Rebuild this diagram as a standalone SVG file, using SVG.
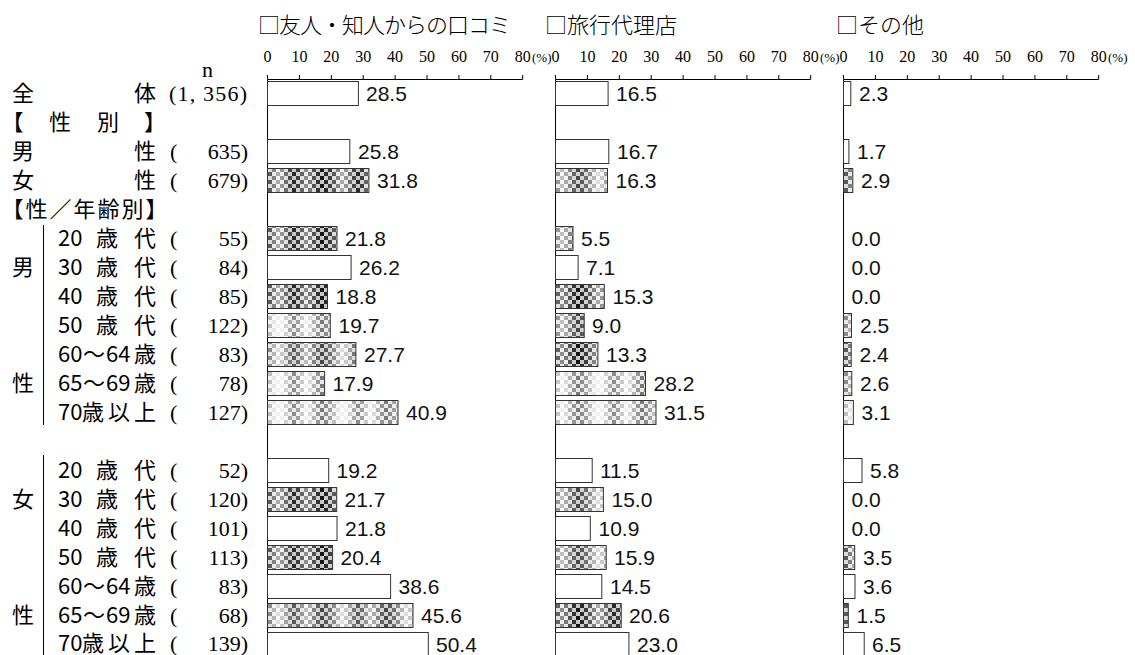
<svg xmlns="http://www.w3.org/2000/svg" width="1135" height="655" viewBox="0 0 1135 655">
<defs>
<pattern id="v1" width="64" height="8" patternUnits="userSpaceOnUse">
<rect x="0" width="4" height="8" fill="#c8c8c8"/><rect x="0" y="0" width="4" height="4" fill="#141414"/>
<rect x="4" width="4" height="8" fill="#c8c8c8"/><rect x="4" y="4" width="4" height="4" fill="#282828"/>
<rect x="8" width="4" height="8" fill="#d2d2d2"/><rect x="8" y="0" width="4" height="4" fill="#3c3c3c"/>
<rect x="12" width="4" height="8" fill="#dcdcdc"/><rect x="12" y="4" width="4" height="4" fill="#5a5a5a"/>
<rect x="16" width="4" height="8" fill="#ebebeb"/><rect x="16" y="0" width="4" height="4" fill="#828282"/>
<rect x="20" width="4" height="8" fill="#f5f5f5"/><rect x="20" y="4" width="4" height="4" fill="#aaaaaa"/>
<rect x="24" width="4" height="8" fill="#f0f0f0"/><rect x="24" y="0" width="4" height="4" fill="#969696"/>
<rect x="28" width="4" height="8" fill="#e1e1e1"/><rect x="28" y="4" width="4" height="4" fill="#6e6e6e"/>
<rect x="32" width="4" height="8" fill="#d2d2d2"/><rect x="32" y="0" width="4" height="4" fill="#464646"/>
<rect x="36" width="4" height="8" fill="#c8c8c8"/><rect x="36" y="4" width="4" height="4" fill="#282828"/>
<rect x="40" width="4" height="8" fill="#d2d2d2"/><rect x="40" y="0" width="4" height="4" fill="#3c3c3c"/>
<rect x="44" width="4" height="8" fill="#e1e1e1"/><rect x="44" y="4" width="4" height="4" fill="#646464"/>
<rect x="48" width="4" height="8" fill="#f0f0f0"/><rect x="48" y="0" width="4" height="4" fill="#8c8c8c"/>
<rect x="52" width="4" height="8" fill="#ebebeb"/><rect x="52" y="4" width="4" height="4" fill="#787878"/>
<rect x="56" width="4" height="8" fill="#dcdcdc"/><rect x="56" y="0" width="4" height="4" fill="#505050"/>
<rect x="60" width="4" height="8" fill="#cdcdcd"/><rect x="60" y="4" width="4" height="4" fill="#323232"/>
</pattern>
<pattern id="v2" width="64" height="8" patternUnits="userSpaceOnUse">
<rect x="0" width="4" height="8" fill="#d2d2d2"/><rect x="0" y="0" width="4" height="4" fill="#464646"/>
<rect x="4" width="4" height="8" fill="#d2d2d2"/><rect x="4" y="4" width="4" height="4" fill="#5a5a5a"/>
<rect x="8" width="4" height="8" fill="#dcdcdc"/><rect x="8" y="0" width="4" height="4" fill="#6e6e6e"/>
<rect x="12" width="4" height="8" fill="#e6e6e6"/><rect x="12" y="4" width="4" height="4" fill="#8c8c8c"/>
<rect x="16" width="4" height="8" fill="#f5f5f5"/><rect x="16" y="0" width="4" height="4" fill="#b4b4b4"/>
<rect x="20" width="4" height="8" fill="#ffffff"/><rect x="20" y="4" width="4" height="4" fill="#dcdcdc"/>
<rect x="24" width="4" height="8" fill="#fafafa"/><rect x="24" y="0" width="4" height="4" fill="#c8c8c8"/>
<rect x="28" width="4" height="8" fill="#ebebeb"/><rect x="28" y="4" width="4" height="4" fill="#a0a0a0"/>
<rect x="32" width="4" height="8" fill="#dcdcdc"/><rect x="32" y="0" width="4" height="4" fill="#787878"/>
<rect x="36" width="4" height="8" fill="#d2d2d2"/><rect x="36" y="4" width="4" height="4" fill="#5a5a5a"/>
<rect x="40" width="4" height="8" fill="#dcdcdc"/><rect x="40" y="0" width="4" height="4" fill="#6e6e6e"/>
<rect x="44" width="4" height="8" fill="#ebebeb"/><rect x="44" y="4" width="4" height="4" fill="#969696"/>
<rect x="48" width="4" height="8" fill="#fafafa"/><rect x="48" y="0" width="4" height="4" fill="#bebebe"/>
<rect x="52" width="4" height="8" fill="#f5f5f5"/><rect x="52" y="4" width="4" height="4" fill="#aaaaaa"/>
<rect x="56" width="4" height="8" fill="#e6e6e6"/><rect x="56" y="0" width="4" height="4" fill="#828282"/>
<rect x="60" width="4" height="8" fill="#d7d7d7"/><rect x="60" y="4" width="4" height="4" fill="#646464"/>
</pattern>
<pattern id="v3" width="64" height="8" patternUnits="userSpaceOnUse">
<rect x="0" width="4" height="8" fill="#ebebeb"/><rect x="0" y="0" width="4" height="4" fill="#787878"/>
<rect x="4" width="4" height="8" fill="#ebebeb"/><rect x="4" y="4" width="4" height="4" fill="#8c8c8c"/>
<rect x="8" width="4" height="8" fill="#f0f0f0"/><rect x="8" y="0" width="4" height="4" fill="#a0a0a0"/>
<rect x="12" width="4" height="8" fill="#f5f5f5"/><rect x="12" y="4" width="4" height="4" fill="#bebebe"/>
<rect x="16" width="4" height="8" fill="#fafafa"/><rect x="16" y="0" width="4" height="4" fill="#e6e6e6"/>
<rect x="20" width="4" height="8" fill="#ffffff"/><rect x="20" y="4" width="4" height="4" fill="#f0f0f0"/>
<rect x="24" width="4" height="8" fill="#ffffff"/><rect x="24" y="0" width="4" height="4" fill="#f0f0f0"/>
<rect x="28" width="4" height="8" fill="#fafafa"/><rect x="28" y="4" width="4" height="4" fill="#d2d2d2"/>
<rect x="32" width="4" height="8" fill="#f0f0f0"/><rect x="32" y="0" width="4" height="4" fill="#aaaaaa"/>
<rect x="36" width="4" height="8" fill="#ebebeb"/><rect x="36" y="4" width="4" height="4" fill="#8c8c8c"/>
<rect x="40" width="4" height="8" fill="#f0f0f0"/><rect x="40" y="0" width="4" height="4" fill="#a0a0a0"/>
<rect x="44" width="4" height="8" fill="#fafafa"/><rect x="44" y="4" width="4" height="4" fill="#c8c8c8"/>
<rect x="48" width="4" height="8" fill="#ffffff"/><rect x="48" y="0" width="4" height="4" fill="#f0f0f0"/>
<rect x="52" width="4" height="8" fill="#fafafa"/><rect x="52" y="4" width="4" height="4" fill="#dcdcdc"/>
<rect x="56" width="4" height="8" fill="#f5f5f5"/><rect x="56" y="0" width="4" height="4" fill="#b4b4b4"/>
<rect x="60" width="4" height="8" fill="#eeeeee"/><rect x="60" y="4" width="4" height="4" fill="#969696"/>
</pattern>
</defs>
<style>
.lbl{font-family:"Noto Sans CJK JP","Noto Sans CJK SC",sans-serif;font-size:22px;fill:#000}
.num{font-family:"Liberation Serif",serif;font-size:22px;fill:#000}
.ne{text-anchor:end}
.val{font-family:"Liberation Sans",Arial,sans-serif;font-size:21px;fill:#111}
.ax{font-family:"Liberation Serif",serif;font-size:16px;fill:#000;text-anchor:middle}
.pct{font-family:"Liberation Serif",serif;font-size:13px;fill:#000}
.hdr{font-family:"Noto Sans CJK JP","Noto Sans CJK SC",sans-serif;font-weight:300;font-size:22px;fill:#000}
.axis{stroke:#000;stroke-width:1;fill:none}
.bar{stroke:#333;stroke-width:1}
.w{fill:#fff}
.d{fill:url(#v1)}
.m{fill:url(#v2)}
.l{fill:url(#v3)}
.br{stroke:#000;stroke-width:1}
</style>
<rect width="1135" height="655" fill="#fff"/>

<g id="headers">
<text class="hdr" x="258" y="33" textLength="253" lengthAdjust="spacing">□友人・知人からの口コミ</text>
<text class="hdr" x="545" y="33">□旅行代理店</text>
<text class="hdr" x="836" y="33">□その他</text>
</g>

<g id="axes">
<g id="axis1">
<path class="axis" d="M267.5 655V79.5H522.7M267.5 75V79.5M299.4 75V79.5M331.3 75V79.5M363.2 75V79.5M395.1 75V79.5M427 75V79.5M458.9 75V79.5M490.8 75V79.5M522.7 75V79.5"/>
<text class="ax" x="267.5" y="62">0</text><text class="ax" x="299.4" y="62">10</text><text class="ax" x="331.3" y="62">20</text><text class="ax" x="363.2" y="62">30</text><text class="ax" x="395.1" y="62">40</text><text class="ax" x="427" y="62">50</text><text class="ax" x="458.9" y="62">60</text><text class="ax" x="490.8" y="62">70</text><text class="ax" x="522.7" y="62">80</text><text class="pct" x="532" y="62">(%)</text>
</g>
<g id="axis2">
<path class="axis" d="M555.5 655V79.5H810.7M555.5 75V79.5M587.4 75V79.5M619.3 75V79.5M651.2 75V79.5M683.1 75V79.5M715 75V79.5M746.9 75V79.5M778.8 75V79.5M810.7 75V79.5"/>
<text class="ax" x="555.5" y="62">0</text><text class="ax" x="587.4" y="62">10</text><text class="ax" x="619.3" y="62">20</text><text class="ax" x="651.2" y="62">30</text><text class="ax" x="683.1" y="62">40</text><text class="ax" x="715" y="62">50</text><text class="ax" x="746.9" y="62">60</text><text class="ax" x="778.8" y="62">70</text><text class="ax" x="810.7" y="62">80</text><text class="pct" x="820" y="62">(%)</text>
</g>
<g id="axis3">
<path class="axis" d="M843.5 655V79.5H1098.7M843.5 75V79.5M875.4 75V79.5M907.3 75V79.5M939.2 75V79.5M971.1 75V79.5M1003 75V79.5M1034.9 75V79.5M1066.8 75V79.5M1098.7 75V79.5"/>
<text class="ax" x="843.5" y="62">0</text><text class="ax" x="875.4" y="62">10</text><text class="ax" x="907.3" y="62">20</text><text class="ax" x="939.2" y="62">30</text><text class="ax" x="971.1" y="62">40</text><text class="ax" x="1003" y="62">50</text><text class="ax" x="1034.9" y="62">60</text><text class="ax" x="1066.8" y="62">70</text><text class="ax" x="1098.7" y="62">80</text><text class="pct" x="1108" y="62">(%)</text>
</g>
</g>

<g id="labels">
<text class="num" x="202" y="77">n</text>
<g id="row-total"><text class="lbl" x="12" y="101">全</text><text class="lbl" x="134" y="101">体</text><text class="num" x="169" y="101" textLength="78" lengthAdjust="spacing">(1, 356)</text></g>
<g id="row-sex-head"><text class="lbl" x="1.5" y="130">【</text><text class="lbl" x="49" y="130">性</text><text class="lbl" x="97" y="130">別</text><text class="lbl" x="144" y="130">】</text></g>
<g id="row-male"><text class="lbl" x="12" y="159">男</text><text class="lbl" x="134" y="159">性</text><text class="num" x="170" y="159">(</text><text class="num ne" x="248" y="159">635)</text></g>
<g id="row-female"><text class="lbl" x="12" y="188">女</text><text class="lbl" x="134" y="188">性</text><text class="num" x="170" y="188">(</text><text class="num ne" x="248" y="188">679)</text></g>
<g id="row-sexage-head"><text class="lbl" x="1.5" y="217" letter-spacing="2">【性／年齢別】</text></g>
<g id="male-group">
<path class="br" d="M43.5 225V425"/>
<text class="lbl" x="12" y="275">男</text><text class="lbl" x="12" y="391">性</text>
<text class="lbl" x="58" y="246">20</text><text class="lbl" x="96" y="246">歳</text><text class="lbl" x="134" y="246">代</text><text class="num" x="170" y="246">(</text><text class="num ne" x="248" y="246">55)</text>
<text class="lbl" x="58" y="275">30</text><text class="lbl" x="96" y="275">歳</text><text class="lbl" x="134" y="275">代</text><text class="num" x="170" y="275">(</text><text class="num ne" x="248" y="275">84)</text>
<text class="lbl" x="58" y="304">40</text><text class="lbl" x="96" y="304">歳</text><text class="lbl" x="134" y="304">代</text><text class="num" x="170" y="304">(</text><text class="num ne" x="248" y="304">85)</text>
<text class="lbl" x="58" y="333">50</text><text class="lbl" x="96" y="333">歳</text><text class="lbl" x="134" y="333">代</text><text class="num" x="170" y="333">(</text><text class="num ne" x="248" y="333">122)</text>
<text class="lbl" x="58" y="362">60</text><text class="lbl" x="83" y="362">～</text><text class="lbl" x="106" y="362">64</text><text class="lbl" x="134" y="362">歳</text><text class="num" x="170" y="362">(</text><text class="num ne" x="248" y="362">83)</text>
<text class="lbl" x="58" y="391">65</text><text class="lbl" x="83" y="391">～</text><text class="lbl" x="106" y="391">69</text><text class="lbl" x="134" y="391">歳</text><text class="num" x="170" y="391">(</text><text class="num ne" x="248" y="391">78)</text>
<text class="lbl" x="58" y="420">70</text><text class="lbl" x="82" y="420">歳</text><text class="lbl" x="108" y="420">以</text><text class="lbl" x="134" y="420">上</text><text class="num" x="170" y="420">(</text><text class="num ne" x="248" y="420">127)</text>
</g>
<g id="female-group">
<path class="br" d="M43.5 455V655"/>
<text class="lbl" x="12" y="507">女</text><text class="lbl" x="12" y="623">性</text>
<text class="lbl" x="58" y="478">20</text><text class="lbl" x="96" y="478">歳</text><text class="lbl" x="134" y="478">代</text><text class="num" x="170" y="478">(</text><text class="num ne" x="248" y="478">52)</text>
<text class="lbl" x="58" y="507">30</text><text class="lbl" x="96" y="507">歳</text><text class="lbl" x="134" y="507">代</text><text class="num" x="170" y="507">(</text><text class="num ne" x="248" y="507">120)</text>
<text class="lbl" x="58" y="536">40</text><text class="lbl" x="96" y="536">歳</text><text class="lbl" x="134" y="536">代</text><text class="num" x="170" y="536">(</text><text class="num ne" x="248" y="536">101)</text>
<text class="lbl" x="58" y="565">50</text><text class="lbl" x="96" y="565">歳</text><text class="lbl" x="134" y="565">代</text><text class="num" x="170" y="565">(</text><text class="num ne" x="248" y="565">113)</text>
<text class="lbl" x="58" y="594">60</text><text class="lbl" x="83" y="594">～</text><text class="lbl" x="106" y="594">64</text><text class="lbl" x="134" y="594">歳</text><text class="num" x="170" y="594">(</text><text class="num ne" x="248" y="594">83)</text>
<text class="lbl" x="58" y="623">65</text><text class="lbl" x="83" y="623">～</text><text class="lbl" x="106" y="623">69</text><text class="lbl" x="134" y="623">歳</text><text class="num" x="170" y="623">(</text><text class="num ne" x="248" y="623">68)</text>
<text class="lbl" x="58" y="651">70</text><text class="lbl" x="82" y="651">歳</text><text class="lbl" x="108" y="651">以</text><text class="lbl" x="134" y="651">上</text><text class="num" x="170" y="651">(</text><text class="num ne" x="248" y="651">139)</text>
</g>
</g>

<g id="panel1">
<rect class="bar w" x="267.5" y="81.5" width="90.9" height="24"/><text class="val" x="366" y="101">28.5</text>
<rect class="bar w" x="267.5" y="139.5" width="82.3" height="24"/><text class="val" x="358" y="159">25.8</text>
<rect class="bar d" x="267.5" y="168.5" width="101.4" height="24"/><text class="val" x="377" y="188">31.8</text>
<rect class="bar d" x="267.5" y="226.5" width="69.5" height="24"/><text class="val" x="345" y="246">21.8</text>
<rect class="bar w" x="267.5" y="255.5" width="83.6" height="24"/><text class="val" x="359" y="275">26.2</text>
<rect class="bar d" x="267.5" y="284.5" width="60" height="24"/><text class="val" x="335.5" y="304">18.8</text>
<rect class="bar l" x="267.5" y="313.5" width="62.8" height="24"/><text class="val" x="338.5" y="333">19.7</text>
<rect class="bar m" x="267.5" y="342.5" width="88.4" height="24"/><text class="val" x="364" y="362">27.7</text>
<rect class="bar l" x="267.5" y="371.5" width="57.1" height="24"/><text class="val" x="332.5" y="391">17.9</text>
<rect class="bar l" x="267.5" y="400.5" width="130.5" height="24"/><text class="val" x="406" y="420">40.9</text>
<rect class="bar w" x="267.5" y="458.5" width="61.2" height="24"/><text class="val" x="336.5" y="478">19.2</text>
<rect class="bar d" x="267.5" y="487.5" width="69.2" height="24"/><text class="val" x="344.5" y="507">21.7</text>
<rect class="bar w" x="267.5" y="516.5" width="69.5" height="24"/><text class="val" x="345" y="536">21.8</text>
<rect class="bar d" x="267.5" y="545.5" width="65.1" height="24"/><text class="val" x="340.5" y="565">20.4</text>
<rect class="bar w" x="267.5" y="574.5" width="123.1" height="24"/><text class="val" x="398.5" y="594">38.6</text>
<rect class="bar m" x="267.5" y="603.5" width="145.5" height="24"/><text class="val" x="421" y="623">45.6</text>
<rect class="bar w" x="267.5" y="632.5" width="160.8" height="24"/><text class="val" x="436" y="652">50.4</text>
</g>

<g id="panel2">
<rect class="bar w" x="555.5" y="81.5" width="52.6" height="24"/><text class="val" x="616" y="101">16.5</text>
<rect class="bar w" x="555.5" y="139.5" width="53.3" height="24"/><text class="val" x="617" y="159">16.7</text>
<rect class="bar m" x="555.5" y="168.5" width="52" height="24"/><text class="val" x="615.5" y="188">16.3</text>
<rect class="bar m" x="555.5" y="226.5" width="17.5" height="24"/><text class="val" x="581" y="246">5.5</text>
<rect class="bar w" x="555.5" y="255.5" width="22.6" height="24"/><text class="val" x="586" y="275">7.1</text>
<rect class="bar d" x="555.5" y="284.5" width="48.8" height="24"/><text class="val" x="612.5" y="304">15.3</text>
<rect class="bar m" x="555.5" y="313.5" width="28.7" height="24"/><text class="val" x="592" y="333">9.0</text>
<rect class="bar d" x="555.5" y="342.5" width="42.4" height="24"/><text class="val" x="606" y="362">13.3</text>
<rect class="bar l" x="555.5" y="371.5" width="90" height="24"/><text class="val" x="653.5" y="391">28.2</text>
<rect class="bar l" x="555.5" y="400.5" width="100.5" height="24"/><text class="val" x="664" y="420">31.5</text>
<rect class="bar w" x="555.5" y="458.5" width="36.7" height="24"/><text class="val" x="600" y="478">11.5</text>
<rect class="bar m" x="555.5" y="487.5" width="47.9" height="24"/><text class="val" x="611.5" y="507">15.0</text>
<rect class="bar w" x="555.5" y="516.5" width="34.8" height="24"/><text class="val" x="598.5" y="536">10.9</text>
<rect class="bar m" x="555.5" y="545.5" width="50.7" height="24"/><text class="val" x="614" y="565">15.9</text>
<rect class="bar w" x="555.5" y="574.5" width="46.3" height="24"/><text class="val" x="610" y="594">14.5</text>
<rect class="bar d" x="555.5" y="603.5" width="65.7" height="24"/><text class="val" x="629" y="623">20.6</text>
<rect class="bar w" x="555.5" y="632.5" width="73.4" height="24"/><text class="val" x="637" y="652">23.0</text>
</g>

<g id="panel3">
<rect class="bar w" x="843.5" y="81.5" width="7.3" height="24"/><text class="val" x="859" y="101">2.3</text>
<rect class="bar w" x="843.5" y="139.5" width="5.4" height="24"/><text class="val" x="857" y="159">1.7</text>
<rect class="bar d" x="843.5" y="168.5" width="9.3" height="24"/><text class="val" x="861" y="188">2.9</text>
<text class="val" x="851.5" y="246">0.0</text>
<text class="val" x="851.5" y="275">0.0</text>
<text class="val" x="851.5" y="304">0.0</text>
<rect class="bar m" x="843.5" y="313.5" width="8" height="24"/><text class="val" x="860" y="333">2.5</text>
<rect class="bar d" x="843.5" y="342.5" width="7.7" height="24"/><text class="val" x="859.5" y="362">2.4</text>
<rect class="bar m" x="843.5" y="371.5" width="8.3" height="24"/><text class="val" x="860" y="391">2.6</text>
<rect class="bar l" x="843.5" y="400.5" width="9.9" height="24"/><text class="val" x="861.5" y="420">3.1</text>
<rect class="bar w" x="843.5" y="458.5" width="18.5" height="24"/><text class="val" x="870" y="478">5.8</text>
<text class="val" x="851.5" y="507">0.0</text>
<text class="val" x="851.5" y="536">0.0</text>
<rect class="bar d" x="843.5" y="545.5" width="11.2" height="24"/><text class="val" x="863" y="565">3.5</text>
<rect class="bar w" x="843.5" y="574.5" width="11.5" height="24"/><text class="val" x="863" y="594">3.6</text>
<rect class="bar d" x="843.5" y="603.5" width="4.8" height="24"/><text class="val" x="856.5" y="623">1.5</text>
<rect class="bar w" x="843.5" y="632.5" width="20.7" height="24"/><text class="val" x="872" y="652">6.5</text>
</g>
</svg>
